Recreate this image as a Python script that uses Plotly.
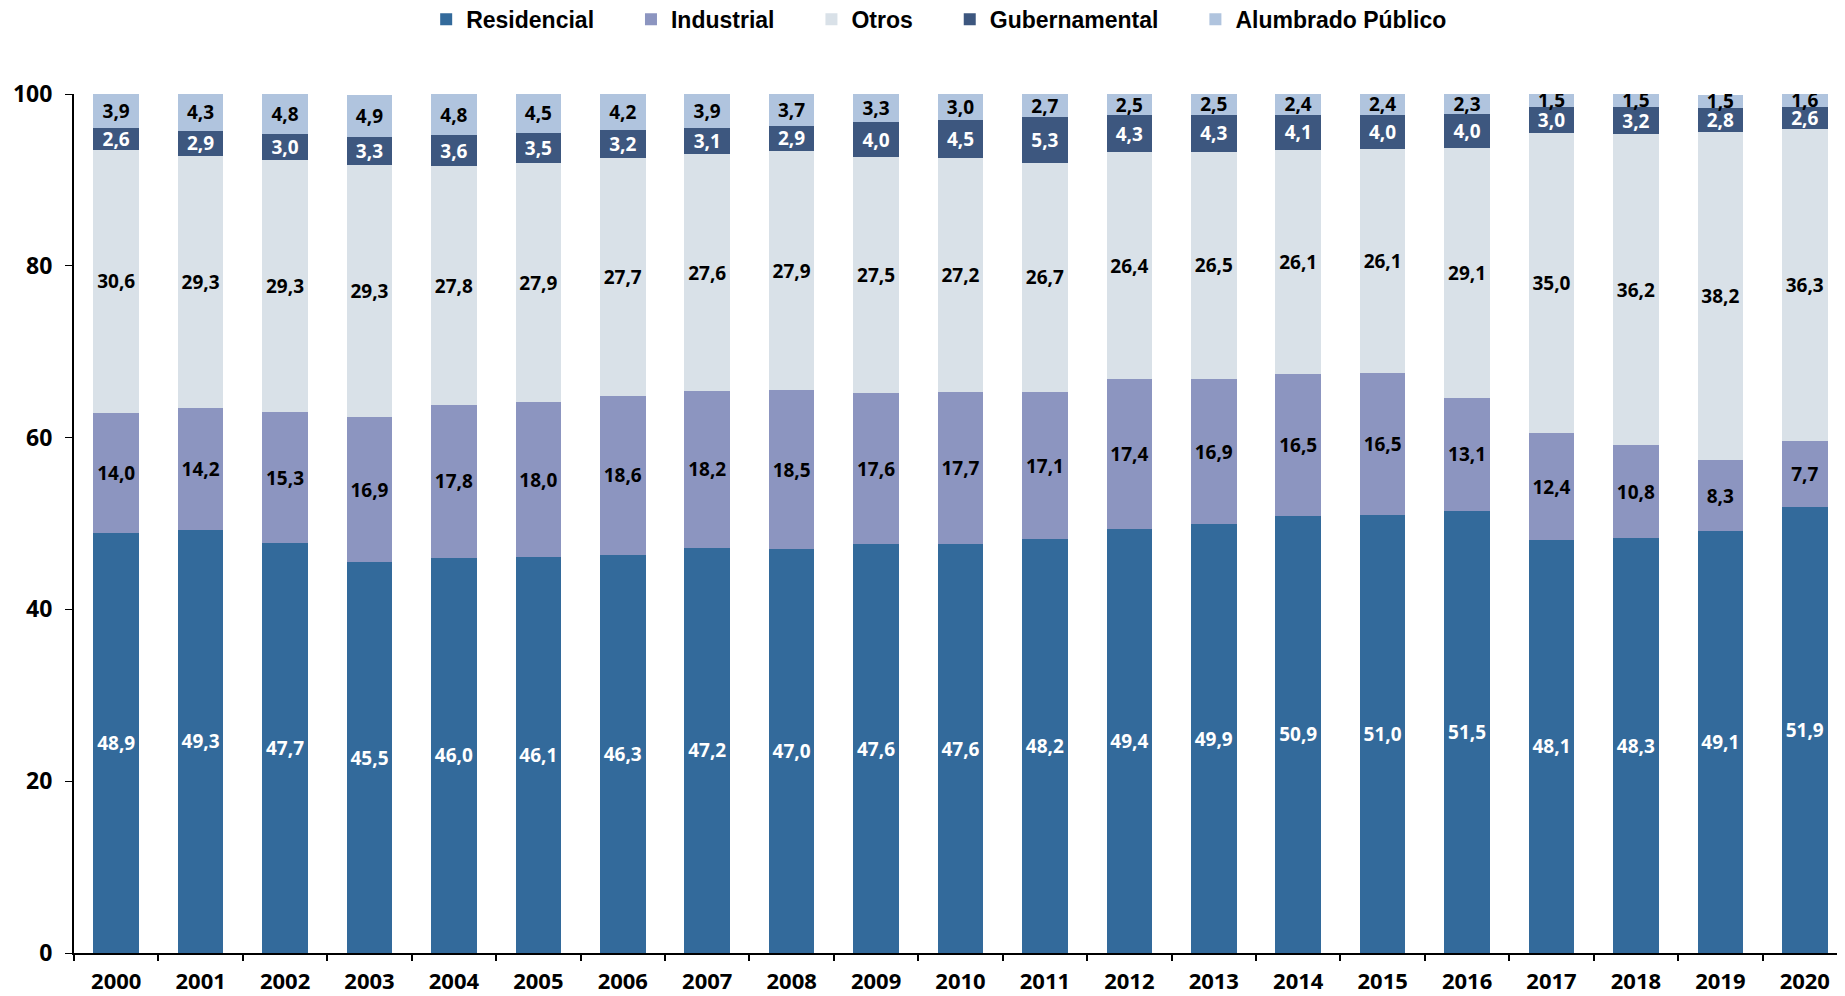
import plotly.graph_objects as go

years = [str(y) for y in range(2000, 2021)]
residencial = [48.9, 49.3, 47.7, 45.5, 46.0, 46.1, 46.3, 47.2, 47.0, 47.6, 47.6, 48.2, 49.4, 49.9, 50.9, 51.0, 51.5, 48.1, 48.3, 49.1, 51.9]
industrial = [14.0, 14.2, 15.3, 16.9, 17.8, 18.0, 18.6, 18.2, 18.5, 17.6, 17.7, 17.1, 17.4, 16.9, 16.5, 16.5, 13.1, 12.4, 10.8, 8.3, 7.7]
otros = [30.6, 29.3, 29.3, 29.3, 27.8, 27.9, 27.7, 27.6, 27.9, 27.5, 27.2, 26.7, 26.4, 26.5, 26.1, 26.1, 29.1, 35.0, 36.2, 38.2, 36.3]
gubernamental = [2.6, 2.9, 3.0, 3.3, 3.6, 3.5, 3.2, 3.1, 2.9, 4.0, 4.5, 5.3, 4.3, 4.3, 4.1, 4.0, 4.0, 3.0, 3.2, 2.8, 2.6]
alumbrado = [3.9, 4.3, 4.8, 4.9, 4.8, 4.5, 4.2, 3.9, 3.7, 3.3, 3.0, 2.7, 2.5, 2.5, 2.4, 2.4, 2.3, 1.5, 1.5, 1.5, 1.6]

series = [
    ("Residencial", residencial, "#336a9b", "white"),
    ("Industrial", industrial, "#8c95c0", "black"),
    ("Otros", otros, "#d9e1e8", "black"),
    ("Gubernamental", gubernamental, "#3d577f", "white"),
    ("Alumbrado Público", alumbrado, "#b0c4de", "black"),
]

label_font = "Open Sans"
pad = "\u00a0\u00a0\u00a0\u00a0\u00a0"
fig = go.Figure()
for name, vals, color, tcolor in series:
    fig.add_trace(go.Bar(
        x=years, y=vals, name=name + pad,
        marker=dict(color=color, line=dict(width=0)),
        texttemplate="%{y:.1f}", textposition="inside", insidetextanchor="middle",
        textangle=0, constraintext="none",
        textfont=dict(family=label_font, size=19, color=tcolor, weight="bold"),
    ))

fig.update_layout(
    barmode="stack", bargap=0.46,
    width=1845, height=996,
    separators=",.",
    plot_bgcolor="white", paper_bgcolor="white",
    margin=dict(l=66, r=6, t=86, b=51, autoexpand=False),
    uniformtext=dict(mode=False),
    legend=dict(orientation="h", x=0.497, xanchor="center", y=1.087, yanchor="middle",
                font=dict(family="Liberation Sans, Arial, sans-serif", size=23, color="black", weight="bold"),
                itemwidth=30, traceorder="normal"),
    xaxis=dict(showline=True, linecolor="black", linewidth=2, ticks="outside", tickson="boundaries",
               ticklen=6, tickwidth=2, tickcolor="black", automargin=False, ticklabelstandoff=8,
               tickfont=dict(family=label_font, size=22, color="black", weight="bold"),
               showgrid=False),
    yaxis=dict(range=[0, 100], tickvals=[0, 20, 40, 60, 80, 100], showline=True, linecolor="black", linewidth=2,
               ticks="outside", ticklen=7, tickwidth=1, tickcolor="black", showgrid=False, zeroline=False,
               automargin=False,
               tickfont=dict(family=label_font, size=23, color="black", weight="bold"), ticklabelstandoff=8),
)

fig.write_html("out.html")
